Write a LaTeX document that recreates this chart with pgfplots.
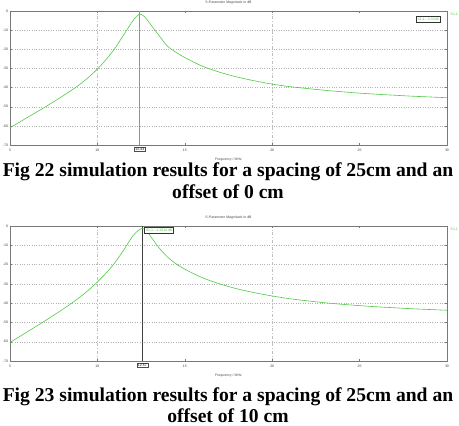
\documentclass[border=0pt]{standalone}
\usepackage{fontspec}
\setmainfont{Liberation Serif}
\setsansfont{Liberation Sans}
\usepackage{pgfplots}
\pgfplotsset{compat=1.18}
\definecolor{curve}{RGB}{80,200,70}
\definecolor{axgray}{RGB}{120,120,120}
\pgfplotstableread{
f db
5 -61
5.5 -58.3
6 -55.6
6.5 -52.9
7 -50.2
7.5 -47.4
8 -44.5
8.5 -41.5
9 -38.3
9.5 -34.6
10 -30.3
10.5 -25.3
11 -19.5
11.5 -12.5
12 -5.5
12.2 -3.2
12.43 -1.6
12.7 -3.0
13 -6.5
13.5 -12.5
14 -18.3
14.5 -21.6
15 -24.3
16 -28.8
17 -32
18 -34.5
19 -36.5
20 -38.2
21 -39.5
22 -40.5
23 -41.4
24 -42.2
25 -42.9
26 -43.5
27 -44
28 -44.5
29 -44.9
30 -45.3
}\topdata
\pgfplotstableread{
f db
5 -60.4
5.5 -57.6
6 -54.8
6.5 -52
7 -49.2
7.5 -46.3
8 -43.3
8.5 -40.2
9 -36.9
9.5 -33.2
10 -29
10.5 -24.4
11 -19
11.5 -12.5
12 -5.5
12.3 -2.6
12.57 -1.2
12.8 -2.2
13 -4.8
13.5 -11
14 -16
14.5 -19.6
15 -22.4
16 -26.8
17 -30
18 -32.6
19 -34.6
20 -36.3
21 -37.7
22 -38.8
23 -39.8
24 -40.6
25 -41.3
26 -41.9
27 -42.4
28 -42.9
29 -43.3
30 -43.7
}\botdata
\pgfplotsset{
  simstyle/.style={
    scale only axis, width=437pt,
    xmin=5, xmax=30, ymin=-70, ymax=0,
    xtick={5,10,...,30}, ytick={-70,-60,...,0},
    /pgf/number format/assume math mode=true,
    axis line style={axgray, line width=0.6pt},
    tick style={axgray},
    major tick length=2pt,
    tick label style={font=\sffamily\fontsize{3.5}{4}\selectfont, text=black!75},
    ymajorgrids,
    grid style={dotted, black!30, line width=0.4pt},
    extra x ticks={10,20},
    extra x tick labels={},
    extra x tick style={grid=major, major grid style={dash dot, black!25, line width=0.4pt}},
    xticklabel style={yshift=-1pt},
    yticklabel style={xshift=1.6pt},
    clip=false,
  }
}
\begin{document}
\begin{tikzpicture}[x=1pt,y=1pt]
\path[use as bounding box] (0,0) rectangle (459,426);
% top chart
\begin{axis}[simstyle, height=134pt, at={(10pt,281pt)}, anchor=south west]
\addplot[axgray!80, line width=0.8pt] coordinates {(12.43,-70) (12.43,0)};
\addplot[curve, line width=0.6pt, smooth] table[x=f,y=db] {\topdata};
\node[anchor=north, draw=black!70, fill=white, inner sep=1pt, font=\sffamily\fontsize{3.5}{4}\selectfont] at (axis cs:12.43,-70) [yshift=-2pt] {12.43};
\node[anchor=south, font=\sffamily\fontsize{3.5}{4}\selectfont, text=black!70] at (rel axis cs:0.5,1) [yshift=3pt] {S-Parameter Magnitude in dB};
\node[anchor=north, font=\sffamily\fontsize{3.5}{4}\selectfont, text=black!70] at (rel axis cs:0.5,0) [yshift=-9pt] {Frequency / MHz};
\node[anchor=north east, draw=black!80, line width=0.6pt, inner sep=1.2pt, text=curve, font=\sffamily\fontsize{3.5}{4}\selectfont] at (rel axis cs:0.985,0.96) {S1,1: -1.5346};
\node[anchor=north west, inner sep=0.5pt, text=curve, font=\sffamily\fontsize{3.5}{4}\selectfont] at (rel axis cs:1,1) [xshift=3pt,yshift=-1.5pt] {S1,1};
\end{axis}
% bottom chart
\begin{axis}[simstyle, height=135pt, at={(10pt,65pt)}, anchor=south west]
\addplot[black!75, line width=0.9pt] coordinates {(12.57,-70) (12.57,0)};
\addplot[curve, line width=0.6pt, smooth] table[x=f,y=db] {\botdata};
\node[anchor=north, draw=black!70, fill=white, inner sep=1pt, font=\sffamily\fontsize{3.5}{4}\selectfont] at (axis cs:12.57,-70) [yshift=-2pt] {12.57};
\node[anchor=north west, draw=black!80, line width=0.6pt, fill=white, inner sep=1.2pt, text=curve, font=\sffamily\fontsize{3.5}{4}\selectfont] at (axis cs:12.57,0) [xshift=2pt,yshift=-1.5pt] {S1,1: -1.2014 dB};
\node[anchor=south, font=\sffamily\fontsize{3.5}{4}\selectfont, text=black!70] at (rel axis cs:0.5,1) [yshift=3pt] {S-Parameter Magnitude in dB};
\node[anchor=north, font=\sffamily\fontsize{3.5}{4}\selectfont, text=black!70] at (rel axis cs:0.5,0) [yshift=-9pt] {Frequency / MHz};
\node[anchor=north west, inner sep=0.5pt, text=curve, font=\sffamily\fontsize{3.5}{4}\selectfont] at (rel axis cs:1,1) [xshift=3pt,yshift=-1.5pt] {S1,1};
\end{axis}
% captions
\node[anchor=base, font=\bfseries\fontsize{19.6}{22}\selectfont] at (228,249) {Fig 22 simulation results for a spacing of 25cm and an};
\node[anchor=base, font=\bfseries\fontsize{19.6}{22}\selectfont] at (228,227) {offset of 0 cm};
\node[anchor=base, font=\bfseries\fontsize{19.6}{22}\selectfont] at (228,24) {Fig 23 simulation results for a spacing of 25cm and an};
\node[anchor=base, font=\bfseries\fontsize{19.6}{22}\selectfont] at (228,3) {offset of 10 cm};
\end{tikzpicture}
\end{document}
